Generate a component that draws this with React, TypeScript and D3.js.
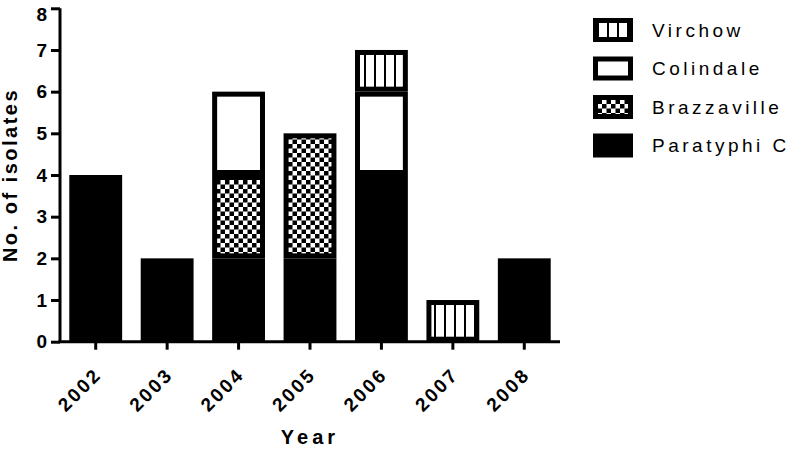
import React, { useEffect, useRef } from 'react';
import * as d3 from 'd3';

// data
const years = ['2002', '2003', '2004', '2005', '2006', '2007', '2008'];
const paratyphiC = [4, 2, 2, 2, 4, 0, 2];
const brazzaville = [0, 0, 2, 3, 0, 0, 0];
const colindale = [0, 0, 2, 0, 2, 0, 0];
const virchow = [0, 0, 0, 0, 1, 1, 0];
const seriesNames = ['Paratyphi C', 'Brazzaville', 'Colindale', 'Virchow'];
const yTicks = [0, 1, 2, 3, 4, 5, 6, 7, 8];

const fills: { [k: string]: string } = {
  'Paratyphi C': '#000',
  Brazzaville: 'url(#checker)',
  Colindale: '#fff',
  Virchow: 'url(#stripes)',
};

const App = () => {
  const ref = useRef<SVGSVGElement>(null);

  useEffect(() => {
    const svg = d3.select(ref.current);
    svg.selectAll('*').remove();

    const width = 793;
    const height = 449;
    const margin = { top: 8.3, left: 60, bottom: 107.3 };
    const plotRight = 560;
    const font = '"Liberation Sans", Arial, sans-serif';

    // patterns
    const defs = svg.append('defs');
    const checker = defs
      .append('pattern')
      .attr('id', 'checker')
      .attr('patternUnits', 'userSpaceOnUse')
      .attr('width', 9)
      .attr('height', 9);
    checker.append('rect').attr('width', 9).attr('height', 9).attr('fill', '#fff');
    checker.append('rect').attr('width', 4.5).attr('height', 4.5).attr('fill', '#000');
    checker.append('rect').attr('x', 4.5).attr('y', 4.5).attr('width', 4.5).attr('height', 4.5).attr('fill', '#000');

    const stripes = defs
      .append('pattern')
      .attr('id', 'stripes')
      .attr('patternUnits', 'userSpaceOnUse')
      .attr('width', 10)
      .attr('height', 10);
    stripes.append('rect').attr('width', 10).attr('height', 10).attr('fill', '#fff');
    stripes.append('rect').attr('x', 4).attr('width', 2).attr('height', 10).attr('fill', '#000');

    // scales
    const x = d3
      .scaleBand()
      .domain(years)
      .range([margin.left, plotRight])
      .paddingInner(0.26)
      .paddingOuter(0.13);

    const y = d3
      .scaleLinear()
      .domain([0, 8])
      .range([height - margin.bottom, margin.top]);

    // stacked data
    const rows = years.map((yr, i) => ({
      year: yr,
      'Paratyphi C': paratyphiC[i],
      Brazzaville: brazzaville[i],
      Colindale: colindale[i],
      Virchow: virchow[i],
    }));
    const stacked = d3.stack<any>().keys(seriesNames)(rows);

    const sw = 5;
    stacked.forEach(layer => {
      svg
        .append('g')
        .selectAll('rect')
        .data(layer.filter(d => d[1] - d[0] > 0))
        .enter()
        .append('rect')
        .attr('x', d => (x(d.data.year) as number) + sw / 2)
        .attr('y', d => y(d[1]) + sw / 2)
        .attr('width', x.bandwidth() - sw)
        .attr('height', d => y(d[0]) - y(d[1]) - sw)
        .attr('fill', fills[layer.key])
        .attr('stroke', '#000')
        .attr('stroke-width', sw);
    });

    // y axis
    const yAxis = svg
      .append('g')
      .attr('transform', `translate(${margin.left},0)`)
      .call(d3.axisLeft(y).tickValues(yTicks).tickSize(9).tickPadding(4));
    yAxis.select('.domain').attr('stroke-width', 3).attr('d', `M0,${y(8)}V${y(0)}`);
    yAxis.selectAll('.tick line').attr('stroke-width', 3);
    yAxis
      .selectAll('.tick text')
      .attr('font-family', font)
      .attr('font-weight', 'bold')
      .attr('font-size', 19)
      .attr('fill', '#000')
      .attr('y', (d: any) => (d === 8 ? 6 : 0));

    // x axis
    const xAxis = svg
      .append('g')
      .attr('transform', `translate(0,${y(0)})`)
      .call(d3.axisBottom(x).tickSize(8).tickSizeOuter(0));
    xAxis.select('.domain').attr('stroke-width', 3).attr('d', `M${margin.left - 1.5},0H${plotRight}`);
    xAxis.selectAll('.tick line').attr('stroke-width', 3);
    xAxis
      .selectAll('.tick text')
      .attr('font-family', font)
      .attr('font-weight', 'bold')
      .attr('font-size', 19)
      .attr('letter-spacing', 2.5)
      .attr('fill', '#000')
      .attr('text-anchor', 'end')
      .attr('dy', 0)
      .attr('transform', 'translate(7,34) rotate(-45)')
      .attr('y', 0)
      .attr('x', 0);

    // axis titles
    svg
      .append('text')
      .attr('x', (margin.left + plotRight) / 2)
      .attr('y', 444)
      .attr('text-anchor', 'middle')
      .attr('font-family', font)
      .attr('font-weight', 'bold')
      .attr('font-size', 20)
      .attr('letter-spacing', 4)
      .text('Year');

    svg
      .append('text')
      .attr('transform', `translate(17,${(y(0) + y(8)) / 2}) rotate(-90)`)
      .attr('text-anchor', 'middle')
      .attr('font-family', font)
      .attr('font-weight', 'bold')
      .attr('font-size', 20)
      .attr('letter-spacing', 2.5)
      .text('No. of isolates');

    // legend
    const legendOrder = ['Virchow', 'Colindale', 'Brazzaville', 'Paratyphi C'];
    const legend = svg
      .append('g')
      .selectAll('g')
      .data(legendOrder)
      .enter()
      .append('g')
      .attr('transform', (d, i) => `translate(593,${18 + i * 38.5})`);
    legend
      .append('rect')
      .attr('x', sw / 2)
      .attr('y', sw / 2)
      .attr('width', 40 - sw)
      .attr('height', 24 - sw)
      .attr('fill', d => fills[d])
      .attr('stroke', '#000')
      .attr('stroke-width', sw);
    legend
      .append('text')
      .attr('x', 59)
      .attr('y', 12)
      .attr('dy', '0.35em')
      .attr('font-family', font)
      .attr('font-size', 19)
      .attr('letter-spacing', 3.5)
      .text(d => d);

    svg.attr('width', width).attr('height', height);
  }, []);

  return (
    <svg
      ref={ref}
      width={793}
      height={449}
      style={{ position: 'absolute', left: 0, top: 0, background: '#fff' }}
    />
  );
};

export default App;
